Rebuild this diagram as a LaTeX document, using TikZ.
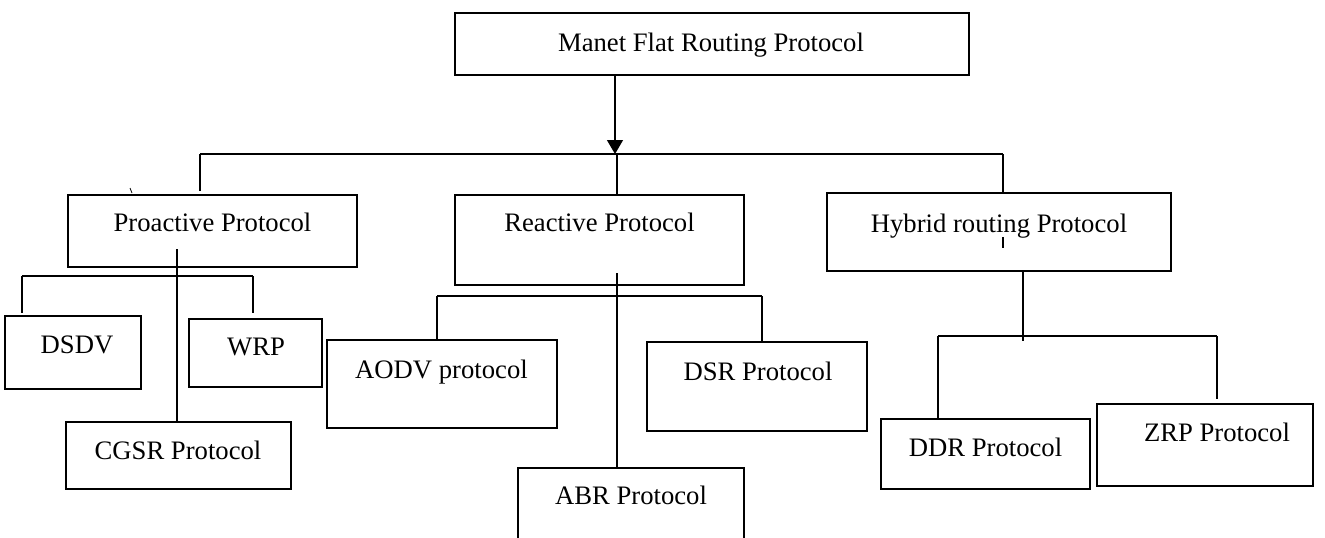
\documentclass[tikz,border=0pt]{standalone}
\usepackage{fontspec}
\setmainfont{Liberation Serif}
\usetikzlibrary{arrows.meta}

% a protocol box: name, x1, y1, x2, y2, label x, label baseline, label
\newcommand{\protobox}[8]{%
  \node[pbox, minimum width={(#4-#2)*0.75pt}, minimum height={(#5-#3)*0.75pt},
        anchor=north west] (#1) at (#2,#3) {};
  \node[plabel] (#1-t) at (#6,#7) {#8};
}

\begin{document}
\begin{tikzpicture}[x=0.75pt, y=-0.75pt,
  pbox/.style={draw, line width=1pt, rectangle, inner sep=0pt, outer sep=0pt},
  plabel/.style={anchor=base, inner sep=0pt, font=\fontsize{20}{24}\selectfont},
  link/.style={line width=1pt},
  linkarrow/.style={line width=1pt, -{Triangle[width=12pt, length=10.5pt]}}]

\useasboundingbox (0,0) rectangle (1325,537);
\clip (0,0) rectangle (1325,537);

% root
\protobox{root}{455}{13}{969}{75}{711}{51}{Manet Flat Routing Protocol}

% second level
\protobox{pro}{68}{195}{357}{267}{212.5}{231}{Proactive Protocol}
\protobox{rea}{455}{195}{744}{285}{599.5}{231}{Reactive Protocol}
\protobox{hyb}{827}{193}{1171}{271}{999}{232}{Hybrid routing Protocol}

% proactive children
\protobox{dsdv}{5}{316}{141}{389}{77}{353}{DSDV}
\protobox{wrp}{189}{319}{322}{387}{256}{355}{WRP}
\protobox{cgsr}{66}{422}{291}{489}{178}{459}{CGSR Protocol}

% reactive children
\protobox{aodv}{327}{340}{557}{428}{441.5}{378}{AODV protocol}
\protobox{dsr}{647}{342}{867}{431}{758}{380}{DSR Protocol}
\protobox{abr}{518}{468}{744}{580}{631}{504}{ABR Protocol}

% hybrid children
\protobox{ddr}{881}{419}{1090}{489}{985.5}{456}{DDR Protocol}
\protobox{zrp}{1097}{404}{1313}{486}{1217}{441}{ZRP Protocol}

% bus under the root
\coordinate (tip) at (615,154);
\coordinate (busL) at (200,154);
\coordinate (busM) at (617,154);
\coordinate (busR) at (1003,154);
\draw[linkarrow] (root.south -| tip) -- (tip);
\draw[link] (busL) -- (busR);
\draw[link] (busL) -- (busL |- 0,191);
\draw[link] (busM) -- (busM |- rea.north);
\draw[link] (busR) -- (busR |- hyb.north);

% proactive branch
\coordinate (pstem) at (177,249);
\coordinate (pbusL) at (22,276);
\coordinate (pbusR) at (253,276);
\draw[link] (pstem) -- (pstem |- cgsr.north);
\draw[link] (pbusL) -- (pbusR);
\draw[link] (pbusL) -- (pbusL |- 0,313);
\draw[link] (pbusR) -- (pbusR |- 0,313);

% reactive branch
\coordinate (rstem) at (617,273);
\coordinate (rbusL) at (437,296);
\coordinate (rbusR) at (762,296);
\draw[link] (rstem) -- (rstem |- abr.north);
\draw[link] (rbusL) -- (rbusR);
\draw[link] (rbusL) -- (rbusL |- aodv.north);
\draw[link] (rbusR) -- (rbusR |- dsr.north);

% hybrid branch
\coordinate (hstem) at (1023,271);
\coordinate (hbusL) at (938,336);
\coordinate (hbusR) at (1217,336);
\draw[link] (hstem) -- (hstem |- 0,341);
\draw[link] (hbusL) -- (hbusR);
\draw[link] (hbusL) -- (hbusL |- ddr.north);
\draw[link] (hbusR) -- (hbusR |- 0,399);

% small stray marks
\draw[line width=0.8pt] (1003,237) -- (1003,248);
\draw[line width=0.6pt] (130,188) -- (132,193);
\end{tikzpicture}
\end{document}
